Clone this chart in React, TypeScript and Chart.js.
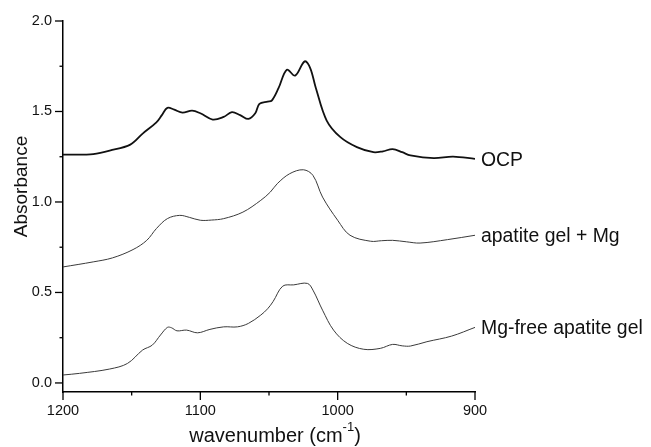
import React, { useEffect, useRef } from "react";
import { Chart, registerables } from "chart.js";

Chart.register(...registerables);

// ---- data ----
const seriesNames = ["OCP", "apatite gel + Mg", "Mg-free apatite gel"];

const ocpX = [1200, 1185, 1178, 1166, 1151, 1142, 1132, 1128, 1124, 1119, 1113, 1106, 1100, 1091, 1083, 1077, 1071, 1065, 1060, 1057, 1051, 1048, 1043, 1037, 1031, 1024, 1020, 1016, 1008, 998, 986, 974, 967, 960, 953, 947, 930, 916, 900];
const ocpY = [1.262, 1.262, 1.264, 1.284, 1.317, 1.378, 1.44, 1.48, 1.52, 1.51, 1.494, 1.505, 1.49, 1.455, 1.47, 1.496, 1.48, 1.459, 1.49, 1.542, 1.555, 1.56, 1.63, 1.731, 1.698, 1.777, 1.74, 1.633, 1.45, 1.358, 1.303, 1.275, 1.28, 1.292, 1.275, 1.257, 1.242, 1.251, 1.238];

const mgX = [1200, 1178, 1164, 1149, 1139, 1132, 1124, 1115, 1108, 1100, 1092, 1083, 1069, 1056, 1049, 1044, 1035, 1025, 1018, 1011, 1000, 991, 976, 968, 960, 950, 940, 920, 900];
const mgY = [0.641, 0.669, 0.691, 0.737, 0.788, 0.853, 0.908, 0.926, 0.915, 0.899, 0.9, 0.908, 0.944, 1.009, 1.055, 1.101, 1.156, 1.178, 1.147, 1.027, 0.899, 0.816, 0.783, 0.786, 0.788, 0.78, 0.773, 0.792, 0.816];

const freeX = [1200, 1188, 1166, 1153, 1142, 1135, 1129, 1124, 1121, 1117, 1110, 1102, 1093, 1083, 1073, 1065, 1056, 1051, 1047, 1040, 1032, 1022, 1018, 1011, 1003, 993, 981, 969, 960, 953, 947, 935, 917, 900];
const freeY = [0.044, 0.053, 0.077, 0.108, 0.182, 0.209, 0.265, 0.307, 0.305, 0.288, 0.292, 0.277, 0.296, 0.31, 0.31, 0.329, 0.375, 0.41, 0.45, 0.535, 0.542, 0.55, 0.513, 0.402, 0.292, 0.219, 0.186, 0.191, 0.213, 0.205, 0.204, 0.228, 0.259, 0.307];

const xMajorTicks = [1200, 1100, 1000, 900];
const xMinorTicks = [1150, 1050, 950];
const yMajorTicks = [0, 0.5, 1.0, 1.5, 2.0];
const yMinorTicks = [0.25, 0.75, 1.25, 1.75];

const xTitle = "wavenumber (cm";
const xTitleSup = "-1";
const xTitleEnd = ")";
const yTitle = "Absorbance";

const FONT = '"Liberation Sans", Arial, sans-serif';

const toPoints = (xs: number[], ys: number[]) => xs.map((x, i) => ({ x, y: ys[i] }));

const annotationPlugin = {
  id: "annot",
  afterDraw(chart: any) {
    const ctx = chart.ctx as CanvasRenderingContext2D;
    const xs = chart.scales.x;
    const ys = chart.scales.y;
    const area = chart.chartArea;
    ctx.save();
    ctx.strokeStyle = "#000";
    ctx.lineWidth = 1.3;
    // y ticks
    const axisX = area.left;
    yMajorTicks.forEach((v) => {
      const p = ys.getPixelForValue(v);
      ctx.beginPath();
      ctx.moveTo(axisX - 8, p);
      ctx.lineTo(axisX, p);
      ctx.stroke();
    });
    yMinorTicks.forEach((v) => {
      const p = ys.getPixelForValue(v);
      ctx.beginPath();
      ctx.moveTo(axisX - 3.5, p);
      ctx.lineTo(axisX, p);
      ctx.stroke();
    });
    const axisY = area.bottom;
    xMajorTicks.forEach((v) => {
      const p = xs.getPixelForValue(v);
      ctx.beginPath();
      ctx.moveTo(p, axisY);
      ctx.lineTo(p, axisY + 8);
      ctx.stroke();
    });
    xMinorTicks.forEach((v) => {
      const p = xs.getPixelForValue(v);
      ctx.beginPath();
      ctx.moveTo(p, axisY);
      ctx.lineTo(p, axisY + 3.5);
      ctx.stroke();
    });

    ctx.fillStyle = "#111";
    // series labels at the end of each curve
    const ends = [ocpY[ocpY.length - 1], mgY[mgY.length - 1], freeY[freeY.length - 1]];
    ctx.font = `20px ${FONT}`;
    ctx.textAlign = "left";
    ctx.textBaseline = "alphabetic";
    seriesNames.forEach((name, i) => {
      const px = xs.getPixelForValue(900) + 6;
      const py = ys.getPixelForValue(ends[i]) + 7;
      ctx.save();
      ctx.translate(px, py);
      ctx.scale(0.97, 1);
      ctx.fillText(name, 0, 0);
      ctx.restore();
    });

    // x title with superscript
    const big = `20px ${FONT}`;
    const small = `13px ${FONT}`;
    ctx.font = big;
    const w1 = ctx.measureText(xTitle).width;
    const w3 = ctx.measureText(xTitleEnd).width;
    ctx.font = small;
    const w2 = ctx.measureText(xTitleSup).width;
    const total = w1 + w2 + w3;
    const cx = (area.left + area.right) / 2 + 6;
    const base = 441.5;
    let sx = cx - total / 2;
    ctx.font = big;
    ctx.fillText(xTitle, sx, base);
    sx += w1;
    ctx.font = small;
    ctx.fillText(xTitleSup, sx, base - 10.5);
    sx += w2;
    ctx.font = big;
    ctx.fillText(xTitleEnd, sx, base);

    // y title
    ctx.save();
    ctx.translate(26.7, (area.top + area.bottom) / 2 - 20);
    ctx.rotate(-Math.PI / 2);
    ctx.font = `19px ${FONT}`;
    ctx.textAlign = "center";
    ctx.fillText(yTitle, 0, 0);
    ctx.restore();
    ctx.restore();
  },
};

export default function App() {
  const ref = useRef<HTMLCanvasElement | null>(null);
  useEffect(() => {
    if (!ref.current) return;
    const chart = new Chart(ref.current, {
      type: "line",
      data: {
        datasets: [
          {
            label: seriesNames[0],
            data: toPoints(ocpX, ocpY),
            borderColor: "#111",
            borderWidth: 1.8,
            pointRadius: 0,
            tension: 0.35,
            fill: false,
          },
          {
            label: seriesNames[1],
            data: toPoints(mgX, mgY),
            borderColor: "#3a3a3a",
            borderWidth: 1,
            pointRadius: 0,
            tension: 0.35,
            fill: false,
          },
          {
            label: seriesNames[2],
            data: toPoints(freeX, freeY),
            borderColor: "#3a3a3a",
            borderWidth: 1,
            pointRadius: 0,
            tension: 0.35,
            fill: false,
          },
        ],
      },
      options: {
        animation: false,
        responsive: false,
        maintainAspectRatio: false,
        devicePixelRatio: 1,
        layout: { padding: { left: 0, top: 21, right: 176, bottom: 0 } },
        plugins: { legend: { display: false }, tooltip: { enabled: false } },
        scales: {
          x: {
            type: "linear",
            reverse: true,
            min: 900,
            max: 1200,
            grid: { display: false, drawTicks: false },
            border: { display: true, color: "#000", width: 1.5 },
            afterBuildTicks: (s: any) => {
              s.ticks = xMajorTicks.map((v) => ({ value: v }));
            },
            afterFit: (s: any) => {
              s.height = 55;
            },
            ticks: {
              autoSkip: false,
              maxRotation: 0,
              padding: 10,
              color: "#111",
              font: { family: FONT, size: 14.5 },
              callback: (v: any) => String(v),
            },
          },
          y: {
            type: "linear",
            min: -0.05,
            max: 2.0,
            grid: { display: false, drawTicks: false },
            border: { display: true, color: "#000", width: 1.5 },
            afterBuildTicks: (s: any) => {
              s.ticks = yMajorTicks.map((v) => ({ value: v }));
            },
            afterFit: (s: any) => {
              s.width = 63;
            },
            ticks: {
              padding: 11,
              color: "#111",
              font: { family: FONT, size: 14.5 },
              callback: (v: any) => Number(v).toFixed(1),
            },
          },
        },
      },
      plugins: [annotationPlugin],
    });
    return () => chart.destroy();
  }, []);
  return (
    <div style={{ position: "fixed", left: 0, top: 0, width: 651, height: 447, background: "#fff" }}>
      <canvas ref={ref} width={651} height={447} style={{ width: 651, height: 447 }} />
    </div>
  );
}
